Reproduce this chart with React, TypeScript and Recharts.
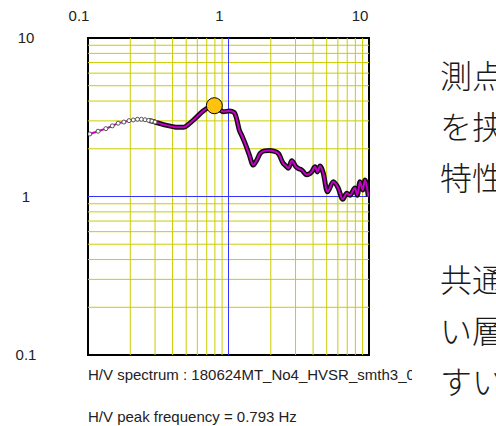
import React from "react";
import {
  LineChart,
  Line,
  XAxis,
  YAxis,
  ReferenceLine,
  ReferenceArea,
  ReferenceDot,
} from "recharts";

// H/V spectrum (frequency in Hz, amplitude ratio)
const freqs = [
  0.103, 0.118, 0.134, 0.149, 0.164, 0.18, 0.196, 0.21, 0.225, 0.24, 0.255, 0.27,
  0.285, 0.3, 0.35, 0.4, 0.43, 0.48, 0.52, 0.58, 0.66, 0.72, 0.793, 0.86, 0.92,
  1.02, 1.1, 1.14, 1.19, 1.25, 1.31, 1.4, 1.5, 1.58, 1.68, 1.8, 1.97, 2.1, 2.26,
  2.45, 2.58, 2.67, 2.82, 3.02, 3.15, 3.32, 3.6, 3.91, 4.13, 4.29, 4.48, 4.73,
  5.05, 5.57, 6.04, 6.5, 6.94, 7.33, 7.95, 8.26, 8.63, 9.02, 9.37, 9.89,
];
const amps = [
  2.48, 2.58, 2.68, 2.79, 2.9, 2.95, 3.01, 3.04, 3.07, 3.07, 3.05, 3.02,
  2.99, 2.95, 2.83, 2.76, 2.73, 2.73, 2.86, 3.11, 3.46, 3.65, 3.74, 3.55, 3.43,
  3.46, 3.38, 3.11, 2.65, 2.4, 2.17, 1.85, 1.58, 1.68, 1.87, 1.94, 1.95, 1.93, 1.87,
  1.62, 1.55, 1.51, 1.68, 1.54, 1.5, 1.47, 1.37, 1.43, 1.54, 1.43, 1.56, 1.4,
  1.07, 1.24, 1.13, 0.96, 1.05, 1.02, 1.13, 1.02, 1.24, 1.1, 1.27, 1.0,
];

const peakFreq = 0.793;
const peakAmp = 3.74;

const decadeTicks = [0.1, 1, 10];
const minorFreqs = [0.2, 0.3, 0.4, 0.5, 0.6, 0.7, 0.8, 0.9, 2, 3, 4, 5, 6, 7, 8, 9];
const minorAmps = [0.2, 0.3, 0.4, 0.5, 0.6, 0.7, 0.8, 0.9, 2, 3, 4, 5, 6, 7, 8, 9];

const specName = "H/V spectrum : 180624MT_No4_HVSR_smth3_0";
const peakText = "H/V peak frequency = 0.793 Hz";
const noteLines1 = ["測点周辺の地盤", "を挟んで比較", "特性を示す"];
const noteLines2 = ["共通して浅", "い層の影響", "すい"];

const data = freqs.map((f, i) => ({
  f,
  amp: amps[i],
  edge: f >= 0.27 ? amps[i] : null,
}));

const font = "'Liberation Sans', Arial, sans-serif";

const XTick = (props: any) => (
  <text
    x={props.x - 9}
    y={16}
    textAnchor="middle"
    dy="0.35em"
    fontSize={15}
    fontFamily={font}
    fill="#222"
  >
    {props.payload.value}
  </text>
);

const YTick = (props: any) => (
  <text
    x={26}
    y={props.y}
    textAnchor="middle"
    dy="0.35em"
    fontSize={15}
    fontFamily={font}
    fill="#222"
  >
    {props.payload.value}
  </text>
);

const renderDot = (props: any) => {
  const { cx, cy, payload, index } = props;
  if (payload.f > 0.3) return <g key={`d${index}`} />;
  return <circle key={`d${index}`} cx={cx} cy={cy} r={2} fill="#fff" stroke="#555" strokeWidth={1} />;
};

export default function App() {
  return (
    <div
      style={{
        position: "fixed",
        left: 0,
        top: 0,
        width: 496,
        height: 426,
        overflow: "hidden",
        background: "#fff",
      }}
    >
      <div style={{ position: "absolute", left: 0, top: 0 }}>
        <LineChart
          width={400}
          height={370}
          data={data}
          margin={{ top: 0, right: 31, bottom: 15, left: 0 }}
        >
          <XAxis
            dataKey="f"
            type="number"
            scale="log"
            domain={[0.1, 10]}
            allowDataOverflow
            ticks={decadeTicks}
            orientation="top"
            height={38}
            axisLine={false}
            tickLine={false}
            tick={XTick}
          />
          <YAxis
            type="number"
            scale="log"
            domain={[0.1, 10]}
            allowDataOverflow
            ticks={decadeTicks}
            width={88}
            axisLine={false}
            tickLine={false}
            tick={YTick}
          />
          {minorFreqs.map((v) => (
            <ReferenceLine key={`vx${v}`} x={v} stroke="#cccc00" strokeWidth={1} />
          ))}
          {minorAmps.map((v) => (
            <ReferenceLine key={`hy${v}`} y={v} stroke="#cccc00" strokeWidth={1} />
          ))}
          <ReferenceLine x={1} stroke="#3333ff" strokeWidth={1} />
          <ReferenceLine y={1} stroke="#3333ff" strokeWidth={1} />
          <Line
            dataKey="edge"
            stroke="#111"
            strokeWidth={5}
            dot={false}
            type="monotone"
            connectNulls={false}
            isAnimationActive={false}
          />
          <Line
            dataKey="amp"
            stroke="#c800c8"
            strokeWidth={2}
            dot={renderDot}
            type="monotone"
            isAnimationActive={false}
          />
          <ReferenceDot
            x={peakFreq}
            y={peakAmp}
            r={8}
            fill="#ffc20e"
            stroke="#000"
            strokeWidth={1}
          />
          <ReferenceArea
            x1={0.1}
            x2={10}
            y1={0.1}
            y2={10}
            fill="none"
            fillOpacity={0}
            stroke="#000"
            strokeWidth={2}
          />
        </LineChart>
      </div>

      <div
        style={{
          position: "absolute",
          left: 88,
          top: 366,
          width: 324,
          overflow: "hidden",
          whiteSpace: "nowrap",
          fontFamily: font,
          fontSize: 15,
          lineHeight: "18px",
          color: "#222",
        }}
      >
        {specName}
      </div>
      <div
        style={{
          position: "absolute",
          left: 88,
          top: 408,
          whiteSpace: "nowrap",
          fontFamily: font,
          fontSize: 15,
          lineHeight: "18px",
          color: "#222",
        }}
      >
        {peakText}
      </div>

      <div
        style={{
          position: "absolute",
          left: 440,
          top: 49,
          whiteSpace: "pre",
          fontFamily: "'Noto Sans CJK JP', sans-serif",
          fontWeight: 300,
          fontSize: 32,
          lineHeight: "51px",
          color: "#1a1a1a",
        }}
      >
        {[...noteLines1, "", ...noteLines2].map((t, i) => (
          <div key={i} style={{ height: 51 }}>
            {t}
          </div>
        ))}
      </div>
    </div>
  );
}
